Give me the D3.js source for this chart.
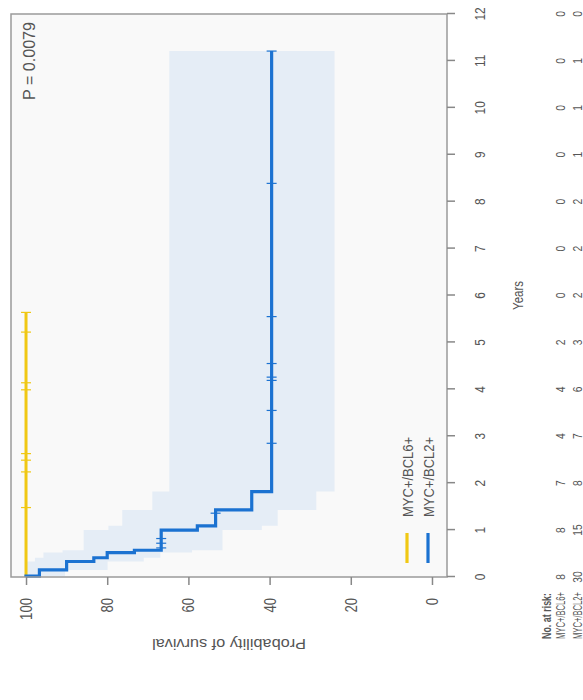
<!DOCTYPE html>
<html lang="en">
<head>
<meta charset="UTF-8">
<title>Kaplan-Meier MYC+/BCL6+ vs MYC+/BCL2+</title>
<script src="https://d3js.org/d3.v7.min.js"></script>
<style>
    body { margin: 0; background: white; font-family: "Liberation Sans", Arial, sans-serif; }
    svg text { fill: #555; }
</style>
</head>
<body>
<div id="chart"></div>
<script>
    // values
    const years = [0, 1, 2, 3, 4, 5, 6, 7, 8, 9, 10, 11, 12];
    const probTicks = [0, 20, 40, 60, 80, 100];
    const groups = ["MYC+/BCL6+", "MYC+/BCL2+"];
    const colors = ["#f0c814", "#1b72d1"];

    // MYC+/BCL2+ step curve (time of step, survival after it, CI)
    const blueTimes = [0, 0.02, 0.15, 0.33, 0.41, 0.52, 0.57, 1.0, 1.09, 1.43, 1.82];
    const blueSurv  = [100, 96.7, 90, 83.3, 80, 73.3, 66.7, 57.8, 53.3, 44.4, 39.5];
    const blueUpper = [100, 100, 100, 97.8, 95.7, 91, 85.8, 79.7, 76.3, 68.9, 64.7];
    const blueLower = [100, 90.4, 79.9, 71, 66.9, 59.1, 51.6, 41.9, 38, 28.5, 24];
    const blueEnd = 11.21;
    const blueCensor = [0.62, 0.72, 0.82, 1.36, 2.85, 3.55, 4.19, 4.26, 4.55, 5.55, 8.39, 11.21];

    // MYC+/BCL6+ stays at 100
    const yellowEnd = 5.64;
    const yellowCensor = [1.48, 2.24, 2.49, 2.63, 3.99, 4.14, 5.22, 5.64];

    const riskBCL6 = [8, 8, 7, 4, 4, 2, 0, 0, 0, 0, 0, 0, 0];
    const riskBCL2 = [30, 15, 8, 7, 6, 3, 2, 2, 2, 1, 1, 1, 0];
    const pText = "P = 0.0079";

    const W = 583, H = 700;
    const SX = 0.82; // the figure is squeezed along the time axis

    const svg = d3.select("#chart").append("svg")
        .attr("width", W).attr("height", H);

    // the whole figure is drawn upright and then turned a quarter turn
    const g = svg.append("g").attr("transform", `translate(0,${H}) rotate(-90)`);

    const x = d3.scaleLinear().domain([0, 12]).range([123, 686]);
    const y = d3.scaleLinear().domain([-3.7, 103.7]).range([447, 11]);

    function label(parent, px, py, s, size, anchor, weight, len) {
        const t = parent.append("text")
            .attr("transform", `translate(${px},${py}) scale(${SX},1)`)
            .attr("text-anchor", anchor || "start")
            .style("font-size", size + "px")
            .style("font-weight", weight || "normal")
            .text(s);
        if (len) t.attr("textLength", len / SX).attr("lengthAdjust", "spacingAndGlyphs");
        return t;
    }

    // panel background
    g.append("rect")
        .attr("x", x(0)).attr("y", y(103.7))
        .attr("width", x(12) - x(0)).attr("height", y(-3.7) - y(103.7))
        .attr("fill", "#f9f9f9");

    // confidence band
    const bandPts = blueTimes.map((t, i) => ({ t, lo: blueLower[i], hi: blueUpper[i] }));
    bandPts.push({ t: blueEnd, lo: blueLower[blueLower.length - 1], hi: blueUpper[blueUpper.length - 1] });
    g.append("path")
        .datum(bandPts)
        .attr("fill", "#e5edf6")
        .attr("d", d3.area().curve(d3.curveStepAfter)
            .x(d => x(d.t)).y0(d => y(d.lo)).y1(d => y(d.hi)));

    // survival curves
    const line = d3.line().curve(d3.curveStepAfter).x(d => x(d.t)).y(d => y(d.s));
    const bluePts = blueTimes.map((t, i) => ({ t, s: blueSurv[i] }));
    bluePts.push({ t: blueEnd, s: blueSurv[blueSurv.length - 1] });

    g.append("path").datum([{ t: 0, s: 100 }, { t: yellowEnd, s: 100 }])
        .attr("fill", "none").attr("stroke", colors[0]).attr("stroke-width", 3)
        .attr("d", line);
    g.append("path").datum(bluePts)
        .attr("fill", "none").attr("stroke", colors[1]).attr("stroke-width", 3.2)
        .attr("stroke-linejoin", "miter")
        .attr("d", line);

    // censor marks
    const survAt = t => {
        let s = 100;
        blueTimes.forEach((bt, i) => { if (bt <= t) s = blueSurv[i]; });
        return s;
    };
    g.selectAll(".cy").data(yellowCensor).join("line")
        .attr("x1", d => x(d)).attr("x2", d => x(d))
        .attr("y1", y(100) - 5).attr("y2", y(100) + 5)
        .attr("stroke", colors[0]).attr("stroke-width", 1.2);
    g.selectAll(".cb").data(blueCensor).join("line")
        .attr("x1", d => x(d)).attr("x2", d => x(d))
        .attr("y1", d => y(survAt(d)) - 5).attr("y2", d => y(survAt(d)) + 5)
        .attr("stroke", colors[1]).attr("stroke-width", 1.2);

    // frame
    g.append("rect")
        .attr("x", x(0)).attr("y", y(103.7))
        .attr("width", x(12) - x(0)).attr("height", y(-3.7) - y(103.7))
        .attr("fill", "none").attr("stroke", "#9a9a9a").attr("stroke-width", 1.5);

    // axes
    const yAxis = g.append("g").attr("transform", `translate(${x(0)},0)`)
        .call(d3.axisLeft(y).tickValues(probTicks).tickSize(8));
    const xAxis = g.append("g").attr("transform", `translate(0,${y(-3.7)})`)
        .call(d3.axisBottom(x).tickValues(years).tickSize(8));
    [yAxis, xAxis].forEach(a => {
        a.select(".domain").remove();
        a.selectAll(".tick line").attr("stroke", "#888").attr("stroke-width", 1.5);
        a.selectAll("text").remove();
    });
    probTicks.forEach(p => label(g, 102, y(p) + 6, p, 16, "end"));
    years.forEach(t => label(g, x(t), 485, t, 14.5, "middle"));

    // axis titles
    g.append("text")
        .attr("transform", `translate(61,${y(50)}) rotate(-90)`)
        .attr("text-anchor", "middle")
        .attr("textLength", 154).attr("lengthAdjust", "spacingAndGlyphs")
        .style("font-size", "14px")
        .text("Probability of survival");
    label(g, x(6), 523, "Years", 14, "middle");

    // p value
    label(g, 678, 35, pText, 16, "end", "normal", 78);

    // legend
    groups.forEach((name, i) => {
        const ly = [407, 428][i];
        g.append("line")
            .attr("x1", 137).attr("x2", 167).attr("y1", ly).attr("y2", ly)
            .attr("stroke", colors[i]).attr("stroke-width", 3.2);
        label(g, 183, ly + 6, name, 15, "start", "normal", 80);
    });

    // numbers at risk
    label(g, 107, 551, "No. at risk:", 13, "end", "bold", 46);
    [riskBCL6, riskBCL2].forEach((row, i) => {
        const ry = [565, 582][i];
        label(g, 108, ry, groups[i], 12.5, "end", "normal", 47);
        row.forEach((n, k) => label(g, x(years[k]), ry, n, 12.5, "middle"));
    });
</script>
</body>
</html>
